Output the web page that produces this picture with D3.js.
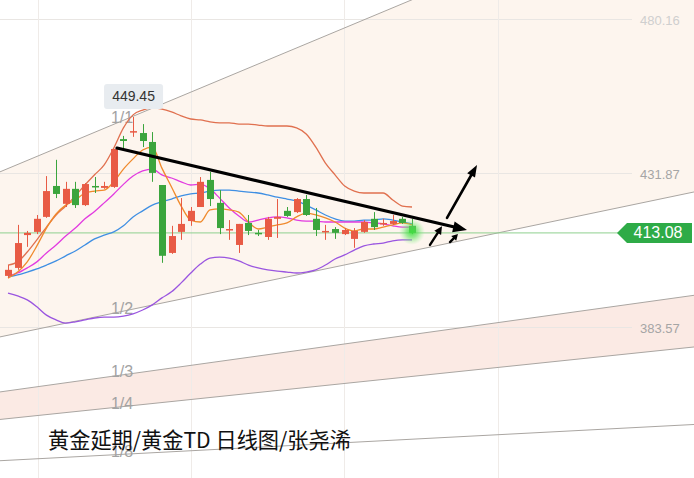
<!DOCTYPE html>
<html><head><meta charset="utf-8">
<script src="https://cdn.jsdelivr.net/npm/d3@7"></script>
<style>html,body{margin:0;padding:0;background:#fff;overflow:hidden}</style>
</head><body><svg id="c" width="694" height="478"></svg>
<script>
// ---------------- data ----------------
const openP  = [399.6,402.1,412.4,413.4,418.1,427.8,422.2,426.9,421.8,427.8,427.2,427.5,442.5,444.7,444.4,441.6,428.1,406.8,413.4,416.8,421.2,429.7,422.5,414.0,409.3,416.2,413.1,411.8,417.5,420.0,419.6,423.7,417.5,413.4,414.3,412.7,411.2,413.4,417.5,415.9,415.9,417.5,415.3];
const highP  = [403.0,415.6,413.7,418.7,430.9,436.0,429.1,429.1,428.7,430.6,429.1,439.4,443.5,449.45,447.2,444.7,428.1,415.3,424.0,421.2,430.6,432.2,426.5,417.1,415.9,418.7,414.0,418.1,423.7,421.2,424.0,425.0,420.9,415.6,414.9,414.6,414.6,417.1,419.6,417.5,418.7,418.1,417.5];
const lowP   = [399.0,401.5,408.7,412.7,417.8,424.0,421.2,420.9,421.5,425.6,426.9,427.2,439.7,443.2,440.0,429.1,403.7,406.5,410.9,415.3,421.2,421.5,412.7,410.9,406.8,412.4,412.1,410.9,411.5,418.1,419.3,418.4,412.1,410.9,411.2,412.4,408.4,413.1,414.0,415.3,415.6,415.9,412.7];
const closeP = [401.5,409.9,413.1,417.5,426.2,425.3,426.9,421.8,428.4,427.5,427.8,439.4,441.9,445.0,441.9,431.9,405.9,412.1,415.9,420.0,429.1,423.7,414.6,414.3,415.9,413.7,412.7,417.5,418.1,418.4,423.7,418.7,414.0,413.7,413.1,414.0,413.7,416.5,414.9,416.2,416.8,416.2,413.08];

const ma5     = [398.9,400.8,404.0,409.0,414.6,419.0,421.8,423.4,425.6,426.2,426.5,429.1,433.1,436.3,439.1,440.0,433.4,427.5,421.5,417.1,416.5,420.3,420.6,420.3,419.6,416.5,414.3,414.9,415.6,416.2,418.1,419.3,418.7,417.8,416.5,414.6,413.7,414.3,414.3,414.9,415.6,416.2,415.6];
const ma10    = [399.6,400.5,402.1,404.0,406.8,409.3,412.1,414.6,417.5,419.8,422.5,425.3,428.3,430.9,432.5,433.1,431.3,430.3,429.1,428.1,428.4,426.9,424.0,420.9,418.4,416.5,417.1,417.8,418.1,417.8,417.1,416.8,416.8,416.5,416.5,416.5,416.5,416.5,416.2,415.9,415.3,414.9,414.9];
const bollMid = [399.3,399.9,400.8,401.8,403.0,404.3,405.9,407.4,409.3,411.2,412.4,413.4,415.3,418.1,420.0,421.8,422.8,423.7,424.7,425.3,425.6,426.2,426.5,426.5,426.2,425.9,425.6,425.0,424.3,423.7,423.1,421.8,420.3,418.7,417.5,416.8,416.8,417.1,417.1,417.5,417.1,416.5,415.9];
const bollUp  = [403.0,404.0,407.1,410.9,414.9,418.7,421.5,424.7,428.1,431.3,434.4,439.7,446.0,450.1,451.6,452.3,451.9,451.0,449.8,448.8,448.5,447.9,447.6,447.6,447.2,447.2,446.9,446.6,446.6,446.6,446.0,444.1,440.0,435.0,431.3,427.8,426.2,425.6,425.6,425.6,423.4,421.5,421.2];
const bollLow = [394.2,393.3,392.1,389.9,387.3,385.8,384.8,385.2,385.8,386.4,386.7,386.7,387.0,387.7,388.9,390.5,392.7,394.6,397.4,400.5,403.3,405.2,405.5,405.2,404.3,403.0,402.1,401.5,401.1,400.8,400.5,400.8,401.5,403.0,404.9,406.2,407.7,409.0,409.6,409.9,410.6,410.9,410.9];

const yTicks = [480.16, 431.87, 383.57, 335.28];
const lastPrice = 413.08;
const peakPrice = 449.45;
const peakIndex = 13;
const fanLabels = ["1/1","1/2","1/3","1/4","1/8"];
const fanRatios = [1, 1/2, 1/3, 1/4, 1/8];
const fanOrigin = {i: -83, p: 328.7};
const fanUnit = 1.26;          // price per bar for the 1/1 line
const trendLine = [{i: 11.33, p: 439.7}, {i: 47.72, p: 414.0}];
const arrowUp   = [{i: 45.64, p: 417.8}, {i: 48.76, p: 434.4}];
const arrowS1   = [{i: 43.87, p: 409.3}, {i: 45.12, p: 415.2}];
const arrowS2   = [{i: 45.95, p: 410.2}, {i: 46.78, p: 412.7}];
const title = "黄金延期/黄金TD 日线图/张尧浠";

// ---------------- scales ----------------
const W = 694, H = 478;
const n = closeP.length;
const x = d3.scaleLinear().domain([0, n - 1]).range([8, 412]);
const y = d3.scaleLinear().domain([335.28, 480.16]).range([481, 19]);
const svg = d3.select("#c");
const numFont = "'Liberation Sans', Arial, sans-serif";

svg.append("rect").attr("width", W).attr("height", H).attr("fill", "#ffffff");

// fan helpers
const fanP = (r, i) => fanOrigin.p + fanUnit * r * (i - fanOrigin.i);
const xi = px => x.invert(px);
const iL = xi(-5), iR = xi(W + 5);

function band(r1, r2, fill) {
  const pts = [[iL, fanP(r1, iL)], [iR, fanP(r1, iR)], [iR, fanP(r2, iR)], [iL, fanP(r2, iL)]];
  svg.append("path")
    .attr("d", d3.line().x(d => x(d[0])).y(d => y(d[1]))(pts) + "Z")
    .attr("fill", fill);
}
band(1, 1/2, "#fdf5ee");
band(1/3, 1/4, "#fbeae4");

// grid
const grid = svg.append("g").attr("stroke", "#e9e6e3").attr("stroke-width", 1);
yTicks.forEach(t => grid.append("line").attr("x1", 0).attr("x2", 632)
  .attr("y1", Math.round(y(t)) + 0.5).attr("y2", Math.round(y(t)) + 0.5));
[38, 191, 344, 498].forEach(gx => grid.append("line").attr("x1", gx + 0.5).attr("x2", gx + 0.5)
  .attr("y1", 0).attr("y2", H).attr("stroke", "#efebe8"));

// fan lines
fanRatios.forEach((r, k) => {
  svg.append("line")
    .attr("x1", x(iL)).attr("y1", y(fanP(r, iL)))
    .attr("x2", x(iR)).attr("y2", y(fanP(r, iR)))
    .attr("stroke", "#aaa6a2").attr("stroke-width", 1);
  const li = xi(122);
  svg.append("text").attr("x", 122).attr("y", y(fanP(r, li)) - 2)
    .attr("text-anchor", "middle").attr("dominant-baseline", "middle")
    .attr("font-family", numFont).attr("font-size", 16).attr("fill", "#a3a3a3")
    .text(fanLabels[k]);
});

// last price line
svg.append("line").attr("x1", 0).attr("x2", 625)
  .attr("y1", y(lastPrice)).attr("y2", y(lastPrice))
  .attr("stroke", "#8fd08f").attr("stroke-width", 1);

// indicator lines
const lineGen = d3.line().x((d, i) => x(i)).y(d => y(d)).curve(d3.curveMonotoneX);
[[bollUp, "#e0704f"], [bollLow, "#9a55e0"], [bollMid, "#3f8fe3"], [ma10, "#e23be0"], [ma5, "#f08a2c"]]
  .forEach(([arr, col]) => svg.append("path").attr("d", lineGen(arr))
    .attr("fill", "none").attr("stroke", col).attr("stroke-width", 1.3));

// candles
const up = "#e85b45", down = "#3ba53d";
const cg = svg.append("g");
for (let i = 0; i < n; i++) {
  const col = closeP[i] >= openP[i] ? up : down;
  const cx = Math.round(x(i)) + 0.5;
  cg.append("line").attr("x1", cx).attr("x2", cx)
    .attr("y1", y(highP[i])).attr("y2", y(lowP[i]))
    .attr("stroke", col).attr("stroke-width", 1);
  const top = y(Math.max(openP[i], closeP[i]));
  const bot = y(Math.min(openP[i], closeP[i]));
  cg.append("rect").attr("x", cx - 3.5).attr("width", 7)
    .attr("y", top).attr("height", Math.max(1.5, bot - top))
    .attr("fill", col);
}

// glow at last candle
const defs = svg.append("defs");
const rg = defs.append("radialGradient").attr("id", "glow");
rg.append("stop").attr("offset", "0%").attr("stop-color", "#3fe03f").attr("stop-opacity", 0.95);
rg.append("stop").attr("offset", "45%").attr("stop-color", "#5be25b").attr("stop-opacity", 0.6);
rg.append("stop").attr("offset", "100%").attr("stop-color", "#8ef08e").attr("stop-opacity", 0);
svg.append("circle").attr("cx", x(n - 1)).attr("cy", y(lastPrice) - 1).attr("r", 13)
  .attr("fill", "url(#glow)");

// arrows
function arrow(pts, sw, hl, hw) {
  const x1 = x(pts[0].i), y1 = y(pts[0].p), x2 = x(pts[1].i), y2 = y(pts[1].p);
  const a = Math.atan2(y2 - y1, x2 - x1);
  const bx = x2 - hl * Math.cos(a), by = y2 - hl * Math.sin(a);
  svg.append("line").attr("x1", x1).attr("y1", y1).attr("x2", bx + Math.cos(a)).attr("y2", by + Math.sin(a))
    .attr("stroke", "#000").attr("stroke-width", sw).attr("stroke-linecap", "round");
  const px = -Math.sin(a) * hw / 2, py = Math.cos(a) * hw / 2;
  svg.append("path").attr("d", `M${x2},${y2}L${bx + px},${by + py}L${bx - px},${by - py}Z`)
    .attr("fill", "#000");
}
arrow(trendLine, 3.2, 14, 11);
arrow(arrowUp, 2.6, 12, 9);
arrow(arrowS1, 2.4, 8, 8);
arrow(arrowS2, 2.4, 6, 7);

// peak label
const px0 = x(peakIndex), py0 = y(peakPrice) - 21;
svg.append("rect").attr("x", px0 - 29).attr("y", py0 - 12).attr("width", 59).attr("height", 25)
  .attr("rx", 3).attr("fill", "#e8ecf0");
svg.append("text").attr("x", px0 + 0.5).attr("y", py0 + 1).attr("text-anchor", "middle")
  .attr("dominant-baseline", "middle").attr("font-family", numFont).attr("font-size", 14)
  .attr("fill", "#333").text(peakPrice.toFixed(2));

// y axis labels
const axis = d3.axisRight(y).tickValues(yTicks).tickSize(0).tickPadding(0).tickFormat(d3.format(".2f"));
const ag = svg.append("g").attr("transform", "translate(640,1)").call(axis);
ag.select(".domain").remove();
ag.selectAll("text").attr("font-family", numFont).attr("font-size", 13)
  .attr("fill", (d, i) => i === 0 ? "#cfcfcf" : "#a5a5a5");

// last price tag
const ty = y(lastPrice);
svg.append("path").attr("d", `M617,${ty}L627,${ty - 10}L692,${ty - 10}L692,${ty + 10}L627,${ty + 10}Z`)
  .attr("fill", "#2eab47");
svg.append("text").attr("x", 658).attr("y", ty + 0.5).attr("text-anchor", "middle")
  .attr("dominant-baseline", "middle").attr("font-family", numFont).attr("font-size", 16)
  .attr("fill", "#fff").text(lastPrice.toFixed(2));

// title
svg.append("text").attr("x", 48).attr("y", 448)
  .attr("font-family", "'Noto Sans CJK SC', sans-serif").attr("font-size", 21.2)
  .attr("fill", "#111").text(title);
</script></body></html>
